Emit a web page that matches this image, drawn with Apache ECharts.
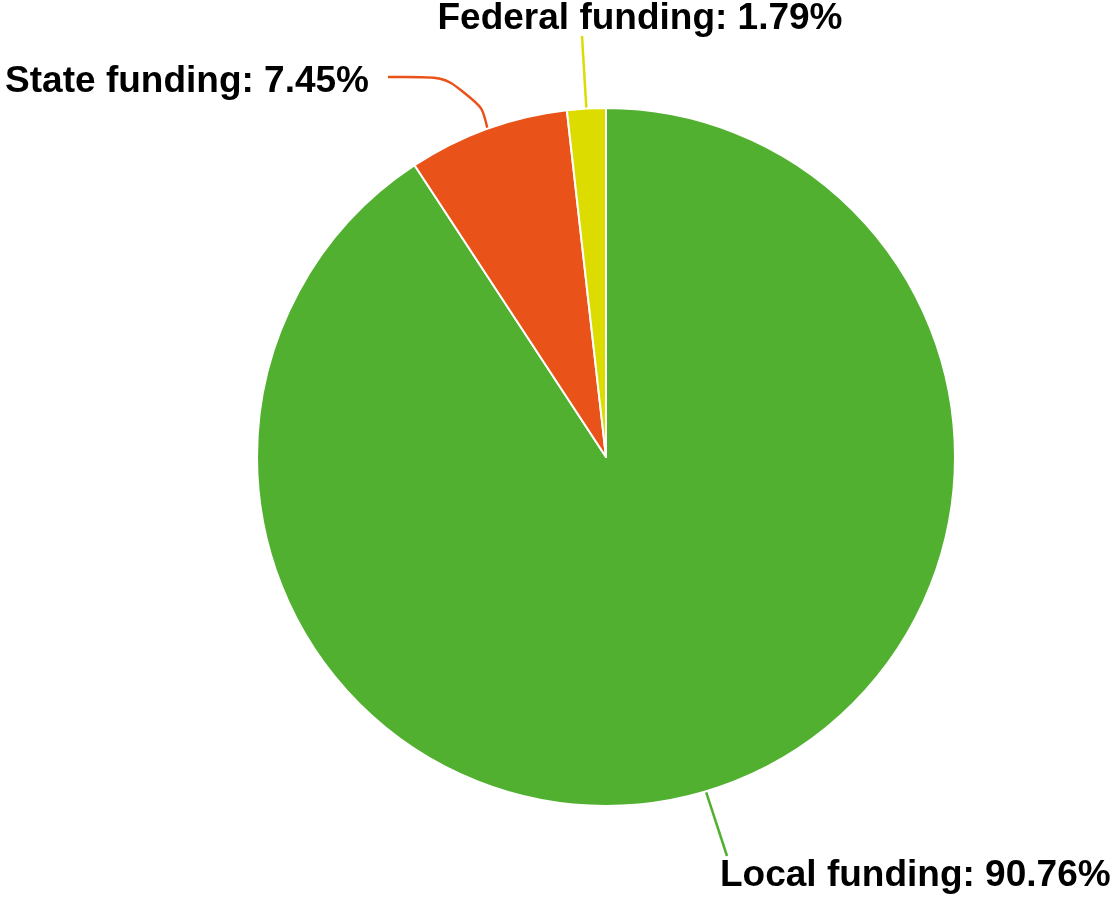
<!DOCTYPE html>
<html>
<head>
<meta charset="utf-8">
<script src="https://cdn.jsdelivr.net/npm/echarts@6/dist/echarts.min.js"></script>
<style>
  html, body { margin: 0; padding: 0; background: #ffffff; }
  #chart { width: 1113px; height: 899px; }
</style>
</head>
<body>
<div id="chart"></div>
<script>
// Funding sources, in clockwise order from 12 o'clock
const categories = ['Local funding', 'State funding', 'Federal funding'];
const shares = [90.76, 7.45, 1.79];
const sliceColors = ['#52b030', '#e95319', '#dcdc00'];

const chart = echarts.init(document.getElementById('chart'), null, { renderer: 'canvas' });

// Where each label sits and how its leader line bends (pixel layout)
const labelPlacement = {
  'Local funding':   { x: 720, y: 876, align: 'left',   bend: (p) => [p, [727, 856]] },
  'State funding':   { x: 369, y: 82,  align: 'right',  bend: (p) => [p, [476, 76], [388, 77]] },
  'Federal funding': { x: 640, y: 19,  align: 'center', bend: (p) => [p, [582, 36]] }
};

chart.setOption({
  backgroundColor: '#ffffff',
  animation: false,
  series: [{
    type: 'pie',
    center: [606, 457],
    radius: [0, 349],
    startAngle: 90,
    clockwise: true,
    avoidLabelOverlap: false,
    data: categories.map((name, i) => ({
      name,
      value: shares[i],
      itemStyle: { color: sliceColors[i] },
      labelLine: {
        show: true,
        smooth: i === 1 ? 0.6 : false,
        lineStyle: { color: sliceColors[i], width: 2.5 }
      }
    })),
    itemStyle: { borderColor: '#ffffff', borderWidth: 2 },
    label: {
      show: true,
      position: 'outside',
      formatter: (p) => p.name + ': ' + p.value.toFixed(2) + '%',
      fontFamily: '"Liberation Sans", Arial, sans-serif',
      fontWeight: 'bold',
      fontSize: 37,
      color: '#000000'
    },
    labelLine: { show: true, length: 20, length2: 20 },
    labelLayout: function (params) {
      const name = categories[params.dataIndex];
      const pl = labelPlacement[name];
      const start = params.labelLinePoints ? params.labelLinePoints[0] : null;
      const out = {
        x: pl.x,
        y: pl.y,
        align: pl.align,
        verticalAlign: 'middle'
      };
      if (start) out.labelLinePoints = pl.bend(start);
      return out;
    }
  }]
});
</script>
</body>
</html>
